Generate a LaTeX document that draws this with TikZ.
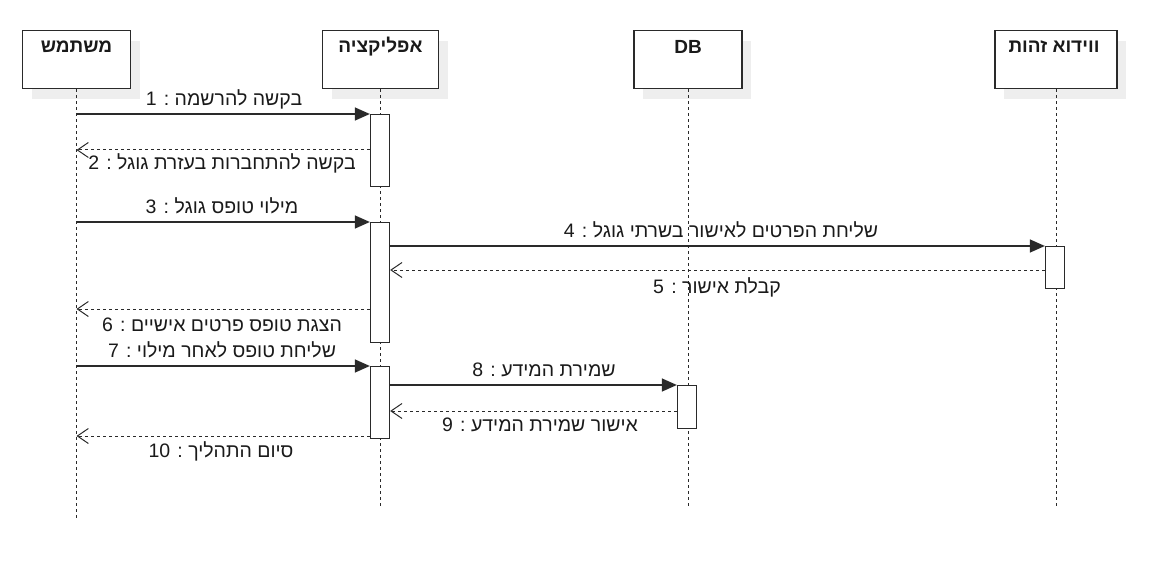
\documentclass[tikz,border=0pt]{standalone}
\usepackage{fontspec}
\setmainfont{Liberation Sans}
\newfontfamily\heb[Script=Hebrew]{Liberation Sans}
\TeXXeTstate=1
\usetikzlibrary{arrows.meta,shadows}
\definecolor{ln}{HTML}{2A2A2A}
\definecolor{shd}{HTML}{EEEEEE}
\definecolor{txt}{HTML}{1A1A1A}
\begin{document}
\begin{tikzpicture}[x=1pt,y=-1pt,
  headbox/.style={draw=ln,line width=1.3pt,fill=white,minimum height=58pt,inner sep=0pt,anchor=north,
    drop shadow={shadow xshift=9pt,shadow yshift=-10pt,fill=shd,opacity=1}},
  headtxt/.style={font=\heb\bfseries\fontsize{19}{22}\selectfont,text=txt,inner sep=0pt},
  life/.style={draw=ln,line width=1pt,dash pattern=on 3pt off 3pt},
  actbox/.style={draw=ln,line width=1.3pt,fill=white,minimum width=19pt,inner sep=0pt,anchor=north},
  msg/.style={draw=ln,line width=1.4pt,-{Triangle[length=15pt,width=13pt]}},
  ret/.style={draw=ln,line width=1pt,dash pattern=on 3pt off 3pt,-{Straight Barb[length=11pt,width=15pt,line width=1pt]}},
  lbl/.style={font=\heb\fontsize{19.5}{22}\selectfont,text=txt,inner sep=0pt}]
\useasboundingbox (0,0) rectangle (1168,567);
% heads
\node[headbox,minimum width=108pt] (hu) at (76.5,30) {};
\node[headbox,minimum width=116pt] (ha) at (380.5,30) {};
\node[headbox,minimum width=108pt] (hd) at (688,30) {};
\node[headbox,minimum width=122pt] (hv) at (1056,30) {};
\node[headtxt] (tu) at (76.5,47) {\beginR משתמש\endR};
\node[headtxt] (ta) at (380.5,47) {\beginR אפליקציה\endR};
\node[headtxt] (td) at (688,47) {DB};
\node[headtxt] (tv) at (1054,47) {\beginR ווידוא זהות\endR};
% lifeline ends
\coordinate (ue) at (76.5,518);
\coordinate (ae) at (380.5,508);
\coordinate (de) at (688,508);
\coordinate (ve) at (1056,508);
\draw[life] (hu.south) -- (ue);
\draw[life] (ha.south) -- (ae);
\draw[life] (hd.south) -- (de);
\draw[life] (hv.south) -- (ve);
% activations
\node[actbox,minimum height=72pt] (a1) at (380,114) {};
\node[actbox,minimum height=120pt] (a2) at (380,222) {};
\node[actbox,minimum height=42pt] (av) at (1055,246) {};
\node[actbox,minimum height=72pt] (a3) at (380,366) {};
\node[actbox,minimum height=43pt] (ad) at (687,385) {};
% row coordinates
\coordinate (y2) at (0,150);
\coordinate (y5) at (0,270);
\coordinate (y6) at (0,309);
\coordinate (y9) at (0,411);
\coordinate (y10) at (0,436);
% messages
\draw[msg] (hu.south |- a1.north west) -- (a1.north west);
\draw[ret] (a1.west |- y2) -- (hu.south |- y2);
\draw[msg] (hu.south |- a2.north west) -- (a2.north west);
\draw[msg] (a2.east |- av.north west) -- (av.north west);
\draw[ret] (av.west |- y5) -- (a2.east |- y5);
\draw[ret] (a2.west |- y6) -- (hu.south |- y6);
\draw[msg] (hu.south |- a3.north west) -- (a3.north west);
\draw[msg] (a3.east |- ad.north west) -- (ad.north west);
\draw[ret] (ad.west |- y9) -- (a3.east |- y9);
\draw[ret] (a3.west |- y10) -- (hu.south |- y10);
% labels
\node[lbl] (l1) at (224,99) {\beginR בקשה להרשמה : 1\endR};
\node[lbl] (l2) at (222,163) {\beginR בקשה להתחברות בעזרת גוגל : 2\endR};
\node[lbl] (l3) at (222,206) {\beginR מילוי טופס גוגל : 3\endR};
\node[lbl] (l4) at (721,230) {\beginR שליחת הפרטים לאישור בשרתי גוגל : 4\endR};
\node[lbl] (l5) at (717,287) {\beginR קבלת אישור : 5\endR};
\node[lbl] (l6) at (222,325) {\beginR הצגת טופס פרטים אישיים : 6\endR};
\node[lbl] (l7) at (222,350) {\beginR שליחת טופס לאחר מילוי : 7\endR};
\node[lbl] (l8) at (544,370) {\beginR שמירת המידע : 8\endR};
\node[lbl] (l9) at (540,425) {\beginR אישור שמירת המידע : 9\endR};
\node[lbl] (l10) at (221,451) {\beginR סיום התהליך : \beginL 10\endL\endR};
\end{tikzpicture}
\end{document}
